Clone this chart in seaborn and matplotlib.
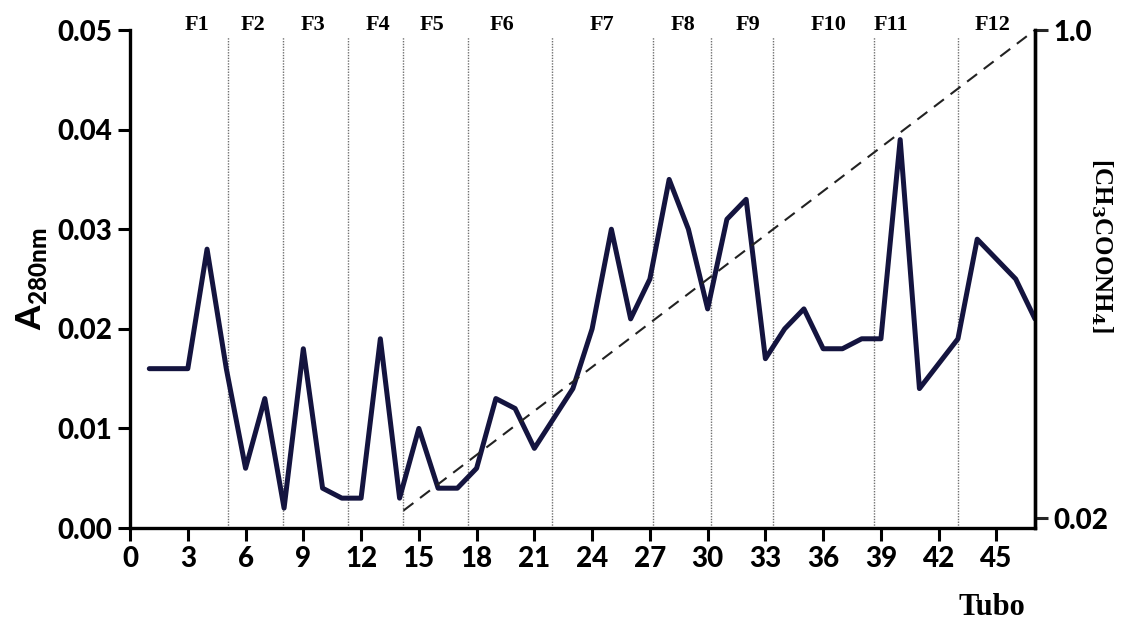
import numpy as np
import pandas as pd
import matplotlib
matplotlib.use("Agg")
import matplotlib.pyplot as plt
import seaborn as sns

# Absorbance (280 nm) measured for each collected tube
tubes = list(range(1, 48))
absorbance = [
    0.016, 0.016, 0.016, 0.028, 0.016, 0.006, 0.013, 0.002, 0.018, 0.004,
    0.003, 0.003, 0.019, 0.003, 0.010, 0.004, 0.004, 0.006, 0.013, 0.012,
    0.008, 0.011, 0.014, 0.020, 0.030, 0.021, 0.025, 0.035, 0.030, 0.022,
    0.031, 0.033, 0.017, 0.020, 0.022, 0.018, 0.018, 0.019, 0.019, 0.039,
    0.014, 0.0165, 0.019, 0.029, 0.027, 0.025, 0.021,
]

# Linear ammonium acetate gradient (start / end)
gradient_tubes = [14.2, 47.0]
gradient_conc = [0.035, 1.0]

# Fraction pools: boundaries between pools and label positions
fraction_bounds = [5.1, 7.95, 11.3, 14.2, 17.55, 21.9, 27.15, 30.15, 33.4, 38.65, 43.0]
fraction_labels = ["F1", "F2", "F3", "F4", "F5", "F6", "F7", "F8", "F9", "F10", "F11", "F12"]
fraction_label_x = [3.5, 6.4, 9.5, 12.85, 15.7, 19.3, 24.5, 28.7, 32.1, 36.3, 39.5, 44.8]

x_ticks = list(range(0, 46, 3))
y_ticks = [0.00, 0.01, 0.02, 0.03, 0.04, 0.05]
y2_ticks = [0.02, 1.0]
y2_ticklabels = ["0.02", "1.0"]

df = pd.DataFrame({"Tubo": tubes, "A280": absorbance})
grad = pd.DataFrame({"Tubo": gradient_tubes, "conc": gradient_conc})

sns.set_theme(style="ticks")
plt.rcParams["font.family"] = ["Lato", "DejaVu Sans"]
plt.rcParams["text.color"] = "black"
plt.rcParams["axes.labelcolor"] = "black"
plt.rcParams["mathtext.fontset"] = "custom"
plt.rcParams["mathtext.bf"] = "Lato:black"
plt.rcParams["mathtext.rm"] = "Lato:black"

TICK_WEIGHT = 900

fig = plt.figure(figsize=(11.23, 6.24), dpi=100)
ax = fig.add_axes([0.1158, 0.1538, 0.8058, 0.7981])

# Fraction dividers
ax.vlines(fraction_bounds, 0, 0.0493, colors="#707070", linestyles=(0, (1, 1)),
          linewidth=1.0, zorder=1)

sns.lineplot(data=df, x="Tubo", y="A280", ax=ax, color="#14143f",
             linewidth=3.6, zorder=3)

ax.set_xlim(0, 47)
ax.set_ylim(0, 0.05)
ax.set_xticks(x_ticks)
ax.set_yticks(y_ticks)
ax.set_yticklabels([f"{v:.2f}" for v in y_ticks])
ax.tick_params(axis="both", which="major", length=9, width=2.2, color="black",
               labelsize=20, pad=4, labelcolor="black")
for lab in ax.get_xticklabels() + ax.get_yticklabels():
    lab.set_fontweight(TICK_WEIGHT)
for side in ["left", "bottom", "right"]:
    ax.spines[side].set_linewidth(2.4)
    ax.spines[side].set_color("black")
ax.spines["top"].set_visible(False)
ax.set_xlabel("")
ax.set_ylabel(r"$\mathbf{A}_{\mathbf{280nm}}$", fontsize=25, labelpad=6,
              color="black")

# Gradient on the secondary axis
ax2 = ax.twinx()
sns.lineplot(data=grad, x="Tubo", y="conc", ax=ax2, color="#222222",
             linewidth=1.5, linestyle=(0, (6, 4)), zorder=2)
ax2.set_ylim(0, 1.0)
ax2.set_yticks(y2_ticks)
ax2.set_yticklabels(y2_ticklabels)
ax2.tick_params(axis="y", length=9, width=2.2, labelsize=20, pad=4,
                labelcolor="black")
for lab in ax2.get_yticklabels():
    lab.set_fontweight(TICK_WEIGHT)
for side in ["top", "left", "bottom"]:
    ax2.spines[side].set_visible(False)
ax2.spines["right"].set_linewidth(2.4)
ax2.spines["right"].set_color("black")
ax2.set_xlabel("")
ax2.set_ylabel("")

fig.text(0.981, 0.607, r"[CH$_\mathbf{3}$COONH$_\mathbf{4}$]", fontsize=18,
         rotation=270, ha="center", va="center", family="Liberation Serif",
         fontweight="bold", color="black", math_fontfamily="dejavuserif")

# Fraction labels above the plot
for lbl, xp in zip(fraction_labels, fraction_label_x):
    ax.text(xp, 0.0505, lbl, ha="center", va="center", fontsize=16,
            family="Liberation Serif", fontweight="bold", color="black",
            transform=ax.transData)

fig.text(0.883, 0.027, "Tubo", ha="center", va="center", fontsize=22,
         family="Liberation Serif", fontweight="bold", color="black")

fig.savefig("out.png", dpi=100, facecolor="white")
